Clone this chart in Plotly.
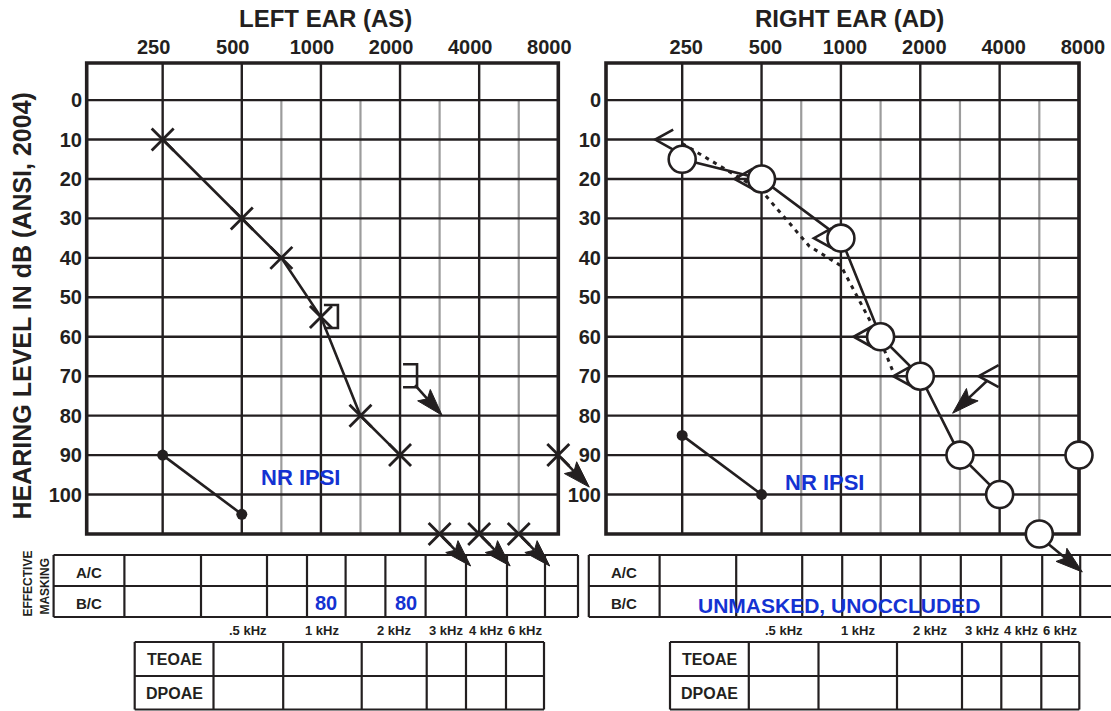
import numpy as np
import plotly.graph_objects as go

W, H = 1111, 711

# ---------------- data ----------------
freq_ticks = [250, 500, 1000, 2000, 4000, 8000]
freq_tick_labels = ["250", "500", "1000", "2000", "4000", "8000"]
half_octave_freqs = [750, 1500, 3000, 6000]
db_ticks = [0, 10, 20, 30, 40, 50, 60, 70, 80, 90, 100]

# Left ear (AS)
left_ac_freq = [250, 500, 750, 1000, 1500, 2000]
left_ac_db = [10, 30, 40, 55, 80, 90]
left_ac_nr_freq = [3000, 4000, 6000, 8000]
left_ac_nr_db = [110, 110, 110, 90]
left_bc_masked_freq = [1000, 2000]
left_bc_masked_db = [55, 70]
left_bc_masked_nr = [False, True]
left_reflex_freq = [250, 500]
left_reflex_db = [90, 105]

# Right ear (AD)
right_ac_freq = [250, 500, 1000, 1500, 2000, 3000, 4000]
right_ac_db = [15, 20, 35, 60, 70, 90, 100]
right_ac_extra_freq = [8000]
right_ac_extra_db = [90]
right_ac_nr_freq = [6000]
right_ac_nr_db = [110]
right_bc_freq = [250, 500, 1000, 1500, 2000]
right_bc_db = [10, 20, 35, 60, 70]
right_bc_nr_freq = [4000]
right_bc_nr_db = [70]
# hand-drawn dotted bone-conduction line (octave index from 250 Hz, dB)
right_bc_dotted_oct = [0.0, 1.0, 1.6, 2.0, 2.5, 2.66]
right_bc_dotted_db = [11, 23, 37, 42, 61, 69]
right_reflex_freq = [250, 500]
right_reflex_db = [85, 100]

# note texts
nr_ipsi_text = "NR IPSI"
left_nr_ipsi_pos = (1.74, 95.8)   # (octave index, dB)
right_nr_ipsi_pos = (1.79, 97.0)

# tables
em_row_labels = ["A/C", "B/C"]
em_freqs = [250, 500, 750, 1000, 1500, 2000, 3000, 4000, 6000, 8000]
left_em_bc_values = ["", "", "", "80", "", "80", "", "", "", ""]
right_em_note = "UNMASKED, UNOCCLUDED"
oae_row_labels = ["TEOAE", "DPOAE"]
oae_col_labels = [".5 kHz", "1 kHz", "2 kHz", "3 kHz", "4 kHz", "6 kHz"]

# ---------------- style ----------------
FONT = "Liberation Sans, Arial, Helvetica, sans-serif"
INK = "#231f20"
GRAY = "#9c9c9c"
BLUE = "#1432d2"
LW = 2.6
HEAD_LEN, HEAD_W, HEAD_NOTCH = 27.0, 8.5, 5.0

X_MIN, X_MAX = -0.96, 5.0
Y_MIN, Y_MAX = -9.4, 110.0


def oct_pos(f):
    return np.round(2 * np.log2(np.asarray(f, float) / 250.0)) / 2.0


panels = {
    "left": dict(box=(86.7, 63.0, 558.3, 534.0), area=(83.0, 59.0, 600.0, 582.0),
                 xa="x", ya="y", tickshift=-9),
    "right": dict(box=(606.0, 63.0, 1079.0, 534.0), area=(602.0, 59.0, 1111.0, 582.0),
                  xa="x2", ya="y2", tickshift=4),
}
for p in panels.values():
    bx0, by0, bx1, by1 = p["box"]
    ax0, ay0, ax1, ay1 = p["area"]
    p["sx"] = (bx1 - bx0) / (X_MAX - X_MIN)
    p["sy"] = (by1 - by0) / (Y_MAX - Y_MIN)
    p["xrange"] = [X_MIN - (bx0 - ax0) / p["sx"], X_MAX + (ax1 - bx1) / p["sx"]]
    p["yrange"] = [Y_MAX + (ay1 - by1) / p["sy"], Y_MIN - (by0 - ay0) / p["sy"]]
    p["xdomain"] = [ax0 / W, ax1 / W]
    p["ydomain"] = [1 - ay1 / H, 1 - ay0 / H]


def to_data(p, x, y, dx, dy):
    return x + dx / p["sx"], y + dy / p["sy"]


shapes = []
annotations = []
fig = go.Figure()


def path_shape(p, x, y, offsets, close=False, fill=None, width=LW):
    pts = [to_data(p, x, y, dx, dy) for dx, dy in offsets]
    path = "M" + "L".join(f"{u:.5f},{v:.5f}" for u, v in pts) + ("Z" if close else "")
    shapes.append(dict(type="path", path=path, xref=p["xa"], yref=p["ya"],
                       line=dict(color=INK, width=width),
                       fillcolor=fill if fill else "rgba(0,0,0,0)", layer="above"))


def add_arrow(p, x, y, start, tip):
    sx0, sy0 = start
    tx, ty = tip
    vx, vy = tx - sx0, ty - sy0
    n = np.hypot(vx, vy)
    ux, uy = vx / n, vy / n
    nx, ny = -uy, ux
    bx, by = tx - HEAD_LEN * ux, ty - HEAD_LEN * uy
    c1 = (bx + HEAD_W * nx, by + HEAD_W * ny)
    c2 = (bx - HEAD_W * nx, by - HEAD_W * ny)
    notch = (tx - (HEAD_LEN - HEAD_NOTCH) * ux, ty - (HEAD_LEN - HEAD_NOTCH) * uy)
    path_shape(p, x, y, [start, notch])
    path_shape(p, x, y, [(tx, ty), c1, notch, c2], close=True, fill=INK, width=1)


# ---------------- axes / grid ----------------
layout_axes = {}
for key, p in panels.items():
    xname = "xaxis" if p["xa"] == "x" else "xaxis2"
    yname = "yaxis" if p["ya"] == "y" else "yaxis2"
    layout_axes[xname] = dict(
        domain=p["xdomain"], range=p["xrange"], anchor=p["ya"], side="top",
        tickmode="array", tickvals=oct_pos(freq_ticks).tolist(), ticktext=freq_tick_labels,
        tickfont=dict(family=FONT, size=20, color=INK, weight="bold"),
        ticklabelshift=p["tickshift"], ticks="", showgrid=False, zeroline=False,
        showline=False, fixedrange=True, automargin=False)
    layout_axes[yname] = dict(
        domain=p["ydomain"], range=p["yrange"], anchor=p["xa"], side="left",
        tickmode="array", tickvals=db_ticks, ticktext=[str(d) for d in db_ticks],
        tickfont=dict(family=FONT, size=20, color=INK, weight="bold"),
        ticks="", showgrid=False, zeroline=False, showline=False,
        fixedrange=True, automargin=False)

    for f in half_octave_freqs:
        xv = float(oct_pos(f))
        shapes.append(dict(type="line", xref=p["xa"], yref=p["ya"], x0=xv, x1=xv,
                           y0=0, y1=Y_MAX, line=dict(color=GRAY, width=2.2), layer="below"))
    for f in freq_ticks:
        xv = float(oct_pos(f))
        shapes.append(dict(type="line", xref=p["xa"], yref=p["ya"], x0=xv, x1=xv,
                           y0=Y_MIN, y1=Y_MAX, line=dict(color=INK, width=2.4), layer="below"))
    for d in db_ticks:
        shapes.append(dict(type="line", xref=p["xa"], yref=p["ya"], x0=X_MIN, x1=X_MAX,
                           y0=d, y1=d, line=dict(color=INK, width=2.4), layer="below"))
    shapes.append(dict(type="rect", xref=p["xa"], yref=p["ya"], x0=X_MIN, x1=X_MAX,
                       y0=Y_MIN, y1=Y_MAX, line=dict(color=INK, width=3.6),
                       fillcolor="rgba(0,0,0,0)", layer="below"))

L = panels["left"]
R = panels["right"]

X_SIZE = 22
O_SIZE = 27

# ---------------- left ear traces ----------------
fig.add_trace(go.Scatter(x=oct_pos(left_reflex_freq), y=left_reflex_db, mode="lines+markers",
                         line=dict(color=INK, width=LW),
                         marker=dict(symbol="circle", size=11, color=INK),
                         xaxis="x", yaxis="y", cliponaxis=False, showlegend=False))
fig.add_trace(go.Scatter(x=oct_pos(left_ac_freq), y=left_ac_db, mode="lines+markers",
                         line=dict(color=INK, width=LW),
                         marker=dict(symbol="x-thin", size=X_SIZE, line=dict(color=INK, width=2.8)),
                         xaxis="x", yaxis="y", cliponaxis=False, showlegend=False))
fig.add_trace(go.Scatter(x=oct_pos(left_ac_nr_freq), y=left_ac_nr_db, mode="markers",
                         marker=dict(symbol="x-thin", size=X_SIZE, line=dict(color=INK, width=2.8)),
                         xaxis="x", yaxis="y", cliponaxis=False, showlegend=False))
for f, d in zip(left_ac_nr_freq, left_ac_nr_db):
    add_arrow(L, float(oct_pos(f)), d, (3, 3), (31, 32))
for f, d, nr in zip(left_bc_masked_freq, left_bc_masked_db, left_bc_masked_nr):
    xv = float(oct_pos(f))
    path_shape(L, xv, d, [(3, -12), (17, -12), (17, 11), (3, 11)])
    if nr:
        add_arrow(L, xv, d, (15, 9), (42, 39))

# ---------------- right ear traces ----------------
fig.add_trace(go.Scatter(x=oct_pos(right_reflex_freq), y=right_reflex_db, mode="lines+markers",
                         line=dict(color=INK, width=LW),
                         marker=dict(symbol="circle", size=11, color=INK),
                         xaxis="x2", yaxis="y2", cliponaxis=False, showlegend=False))
fig.add_trace(go.Scatter(x=right_bc_dotted_oct, y=right_bc_dotted_db, mode="lines",
                         line=dict(color=INK, width=3, dash="4px,5px"),
                         xaxis="x2", yaxis="y2", cliponaxis=False, showlegend=False))
fig.add_trace(go.Scatter(x=oct_pos(right_ac_freq), y=right_ac_db, mode="lines+markers",
                         line=dict(color=INK, width=LW),
                         marker=dict(symbol="circle", size=O_SIZE, color="white",
                                     line=dict(color=INK, width=LW)),
                         xaxis="x2", yaxis="y2", cliponaxis=False, showlegend=False))
fig.add_trace(go.Scatter(x=oct_pos(right_ac_extra_freq + right_ac_nr_freq),
                         y=right_ac_extra_db + right_ac_nr_db, mode="markers",
                         marker=dict(symbol="circle", size=O_SIZE, color="white",
                                     line=dict(color=INK, width=LW)),
                         xaxis="x2", yaxis="y2", cliponaxis=False, showlegend=False))
for f, d in zip(right_ac_nr_freq, right_ac_nr_db):
    add_arrow(R, float(oct_pos(f)), d, (9, 10), (43, 38))
for f, d in zip(right_bc_freq, right_bc_db):
    path_shape(R, float(oct_pos(f)), d, [(-9, -10), (-27, 0), (-9, 10)])
for f, d in zip(right_bc_nr_freq, right_bc_nr_db):
    xv = float(oct_pos(f))
    path_shape(R, xv, d, [(-1, -11), (-21, 0), (-1, 11)])
    add_arrow(R, xv, d, (-12, 4), (-47, 37))

for p, pos in ((L, left_nr_ipsi_pos), (R, right_nr_ipsi_pos)):
    annotations.append(dict(text=nr_ipsi_text, x=pos[0], y=pos[1], xref=p["xa"], yref=p["ya"],
                            showarrow=False, xanchor="center", yanchor="middle",
                            font=dict(family=FONT, size=22, color=BLUE, weight="bold")))


# ---------------- titles ----------------
def pann(text, x, y, size, color=INK, angle=0):
    annotations.append(dict(text=text, x=x / W, y=1 - y / H, xref="paper", yref="paper",
                            showarrow=False, xanchor="center", yanchor="middle",
                            textangle=angle,
                            font=dict(family=FONT, size=size, color=color, weight="bold")))


pann("LEFT EAR (AS)", 325.5, 18.5, 24)
pann("RIGHT EAR (AD)", 849.5, 18.5, 24)
pann("HEARING LEVEL IN dB (ANSI, 2004)", 21.5, 306, 25, angle=-90)


# ---------------- tables ----------------
def pline(x0, y0, x1, y1, w=2.2):
    shapes.append(dict(type="line", xref="paper", yref="paper", x0=x0 / W, x1=x1 / W,
                       y0=1 - y0 / H, y1=1 - y1 / H, line=dict(color=INK, width=w), layer="above"))


EM_OFFS = [0, 70.8, 147.4, 213.4, 253.4, 292.0, 331.8, 372.0, 412.4, 453.4, 491.4, 524.4]
EM_Y = (555.0, 586.0, 617.0)
OAE_OFFS = [0, 78.8, 148.5, 227.0, 292.0, 331.3, 371.3, 409.3]
OAE_Y = (642.0, 676.0, 709.5)

for side, em_x0, oae_x0 in (("left", 53.6, 134.7), ("right", 588.8, 670.0)):
    for yy in EM_Y:
        pline(em_x0, yy, em_x0 + EM_OFFS[-1], yy)
    for o in EM_OFFS:
        pline(em_x0 + o, EM_Y[0], em_x0 + o, EM_Y[2])
    for lab, yy in zip(em_row_labels, (572.0, 603.0)):
        pann(lab, em_x0 + EM_OFFS[1] / 2, yy, 15)
    for yy in OAE_Y:
        pline(oae_x0, yy, oae_x0 + OAE_OFFS[-1], yy)
    for o in OAE_OFFS:
        pline(oae_x0 + o, OAE_Y[0], oae_x0 + o, OAE_Y[2])
    for lab, yy in zip(oae_row_labels, (659.5, 693.0)):
        pann(lab, oae_x0 + OAE_OFFS[1] / 2, yy, 16)
    for i, lab in enumerate(oae_col_labels):
        cx = oae_x0 + (OAE_OFFS[i + 1] + OAE_OFFS[i + 2]) / 2
        pann(lab, cx, 630.5, 13)
    if side == "left":
        for i, val in enumerate(left_em_bc_values):
            if val:
                cx = em_x0 + (EM_OFFS[i + 1] + EM_OFFS[i + 2]) / 2
                pann(val, cx, 603.0, 20, color=BLUE)
    else:
        pann(right_em_note, 839.0, 605.0, 21, color=BLUE)

pann("EFFECTIVE", 27.6, 584.0, 12, angle=-90)
pann("MASKING", 44.6, 586.0, 12, angle=-90)

fig.update_layout(
    width=W, height=H, margin=dict(l=0, r=0, t=0, b=0, pad=0),
    paper_bgcolor="white", plot_bgcolor="rgba(0,0,0,0)",
    showlegend=False, shapes=shapes, annotations=annotations,
    **layout_axes)

fig.write_html("out.html", config={"displayModeBar": False},
               post_script="document.body.style.margin='0px';document.body.style.overflow='hidden';")
